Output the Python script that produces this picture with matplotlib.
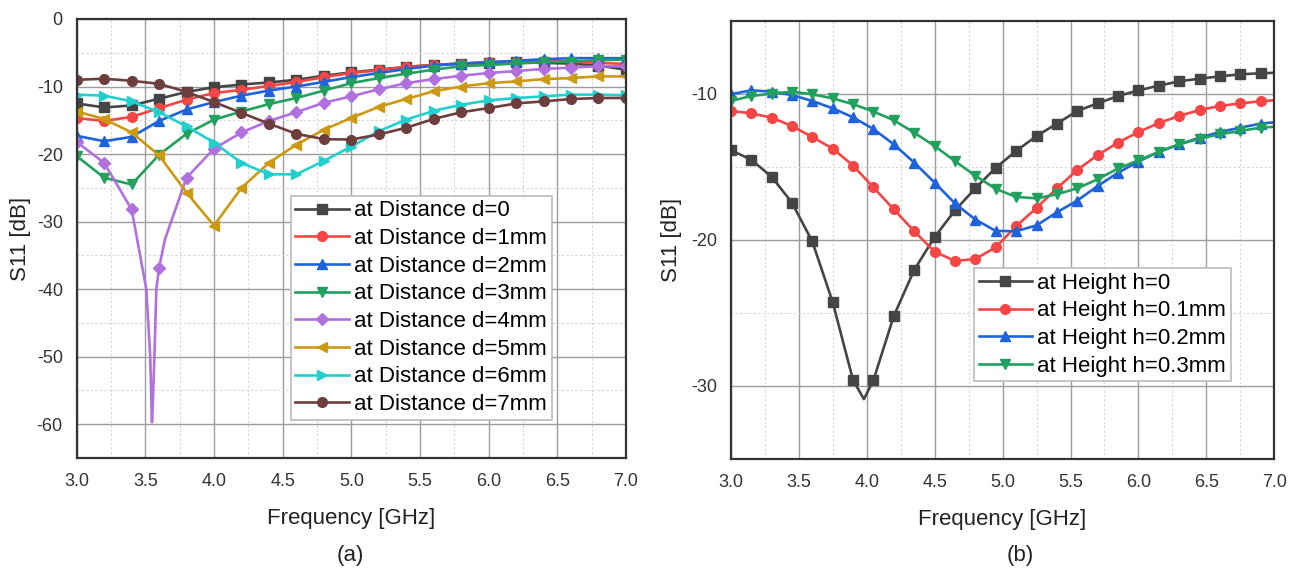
import matplotlib
matplotlib.use("Agg")
import matplotlib.pyplot as plt
from matplotlib.ticker import MultipleLocator

plt.rcParams['font.family'] = ['Liberation Sans', 'DejaVu Sans']
plt.rcParams['axes.unicode_minus'] = False

# ---------------- (a) distance sweep ----------------
freq_a = [3.0, 3.2, 3.4, 3.6, 3.8, 4.0, 4.2, 4.4, 4.6, 4.8, 5.0,
          5.2, 5.4, 5.6, 5.8, 6.0, 6.2, 6.4, 6.6, 6.8, 7.0]
s11_d0 = [-12.5, -13.1, -12.8, -11.8, -10.8, -10.1, -9.7, -9.4, -9.0, -8.4, -7.9,
          -7.5, -7.1, -6.8, -6.6, -6.5, -6.4, -6.5, -6.6, -6.9, -7.5]
s11_d1 = [-14.65, -15.1, -14.5, -13.2, -11.95, -10.96, -10.5, -9.9, -9.35, -8.6, -8.0,
          -7.6, -7.1, -6.8, -6.6, -6.4, -6.3, -6.2, -6.3, -6.5, -6.65]
s11_d2 = [-17.3, -18.1, -17.45, -15.1, -13.4, -12.3, -11.35, -10.6, -10.0, -9.3, -8.6,
          -8.0, -7.4, -6.9, -6.6, -6.4, -6.2, -5.95, -5.8, -5.8, -5.8]
s11_d3 = [-20.3, -23.5, -24.5, -20.1, -17.0, -14.9, -13.7, -12.6, -11.7, -10.6, -9.5,
          -8.75, -8.1, -7.5, -7.0, -6.8, -6.6, -6.4, -6.3, -6.1, -6.0]
s11_d4 = [-18.2, -21.3, -28.2, -36.8, -23.5, -19.2, -16.8, -15.1, -13.8, -12.4, -11.45,
          -10.4, -9.5, -8.9, -8.4, -8.0, -7.7, -7.4, -7.2, -7.0, -7.0]
# extra simulated points of the sharp d=4mm resonance (line only)
dip_d4_freq = [3.44, 3.507, 3.535, 3.548, 3.554, 3.57, 3.58, 3.643]
dip_d4_s11 = [-32.6, -40.0, -49.8, -59.7, -57.2, -47.3, -40.0, -32.6]
s11_d5 = [-13.7, -14.8, -16.8, -20.2, -25.7, -30.6, -25.0, -21.3, -18.6, -16.4, -14.65,
          -13.0, -11.85, -10.7, -10.0, -9.5, -9.25, -8.9, -8.75, -8.5, -8.5]
s11_d6 = [-11.2, -11.35, -12.2, -13.8, -15.9, -18.3, -21.3, -23.0, -23.0, -21.0, -18.9,
          -16.6, -14.9, -13.6, -12.7, -12.05, -11.7, -11.45, -11.2, -11.2, -11.3]
s11_d7 = [-9.0, -8.85, -9.15, -9.6, -10.8, -12.3, -13.9, -15.5, -17.0, -17.8, -17.85,
          -17.1, -16.1, -14.8, -13.8, -13.2, -12.5, -12.2, -11.85, -11.7, -11.7]

labels_a = ['at Distance d=0', 'at Distance d=1mm', 'at Distance d=2mm', 'at Distance d=3mm',
            'at Distance d=4mm', 'at Distance d=5mm', 'at Distance d=6mm', 'at Distance d=7mm']

# ---------------- (b) height sweep ----------------
freq_b = [3.0, 3.15, 3.3, 3.45, 3.6, 3.75, 3.9, 4.05, 4.2, 4.35, 4.5, 4.65, 4.8, 4.95,
          5.1, 5.25, 5.4, 5.55, 5.7, 5.85, 6.0, 6.15, 6.3, 6.45, 6.6, 6.75, 6.9, 7.0]
s11_h0 = [-13.84, -14.5, -15.66, -17.44, -20.1, -24.25, -29.6, -29.6, -25.2, -22.05,
          -19.8, -17.97, -16.46, -15.05, -13.9, -12.88, -12.03, -11.16, -10.64, -10.14,
          -9.75, -9.43, -9.13, -8.95, -8.79, -8.65, -8.58, -8.55]
dip_h0_freq = [3.98]
dip_h0_s11 = [-30.9]
s11_h1 = [-11.16, -11.32, -11.62, -12.19, -12.95, -13.74, -14.9, -16.4, -17.9, -19.4,
          -20.8, -21.44, -21.3, -20.5, -19.06, -17.8, -16.46, -15.2, -14.18, -13.33,
          -12.6, -11.99, -11.5, -11.1, -10.82, -10.64, -10.5, -10.43]
s11_h2 = [-10.02, -9.75, -9.84, -10.07, -10.48, -10.98, -11.6, -12.4, -13.45, -14.7,
          -16.07, -17.5, -18.6, -19.38, -19.4, -19.0, -18.1, -17.3, -16.3, -15.39,
          -14.63, -13.95, -13.45, -12.99, -12.6, -12.3, -12.03, -11.94]
s11_h3 = [-10.48, -10.14, -9.98, -9.84, -10.02, -10.3, -10.7, -11.2, -11.8, -12.65,
          -13.56, -14.6, -15.6, -16.5, -17.05, -17.15, -16.87, -16.46, -15.84, -15.1,
          -14.54, -13.97, -13.45, -13.06, -12.76, -12.53, -12.3, -12.25]

labels_b = ['at Height h=0', 'at Height h=0.1mm', 'at Height h=0.2mm', 'at Height h=0.3mm']

colors_a = ['#454545', '#F54545', '#1E62DC', '#22A05E', '#B070DE', '#CC9A12', '#22CFCF', '#6E3E3E']
markers_a = ['s', 'o', '^', 'v', 'D', '<', '>', 'o']
colors_b = colors_a[:4]
markers_b = markers_a[:4]


def merge(freq, vals, xf, xv):
    pts = sorted([(f, v, True) for f, v in zip(freq, vals)] +
                 [(f, v, False) for f, v in zip(xf, xv)])
    fx = [p[0] for p in pts]
    vy = [p[1] for p in pts]
    idx = [i for i, p in enumerate(pts) if p[2]]
    return fx, vy, idx


def style_axes(ax, ylim, yminor):
    ax.set_xlim(3.0, 7.0)
    ax.set_ylim(*ylim)
    ax.xaxis.set_major_locator(MultipleLocator(0.5))
    ax.xaxis.set_minor_locator(MultipleLocator(0.25))
    ax.yaxis.set_major_locator(MultipleLocator(10))
    ax.yaxis.set_minor_locator(MultipleLocator(yminor))
    ax.grid(which='major', color='#9C9C9C', lw=1.0, ls='-')
    ax.grid(which='minor', color='#D6D6D6', lw=0.8, ls=(0, (2, 2)))
    ax.set_axisbelow(True)
    ax.tick_params(which='both', length=0)
    ax.tick_params(axis='x', labelsize=13, pad=11, colors='#333333')
    ax.tick_params(axis='y', labelsize=13, pad=10, colors='#333333')
    ax.xaxis.set_major_formatter(matplotlib.ticker.FormatStrFormatter('%.1f'))
    for s in ax.spines.values():
        s.set_color('#333333')
        s.set_linewidth(1.6)
    ax.set_xlabel('Frequency [GHz]', fontsize=16, color='#222222')
    ax.set_ylabel('S11 [dB]', fontsize=16, color='#222222')


fig = plt.figure(figsize=(13.0, 5.72), dpi=100)
ax1 = fig.add_axes([0.0590, 0.1993, 0.4225, 0.7675])
ax2 = fig.add_axes([0.5621, 0.1976, 0.4182, 0.7657])

series_a = [s11_d0, s11_d1, s11_d2, s11_d3, s11_d4, s11_d5, s11_d6, s11_d7]
for i, vals in enumerate(series_a):
    if i == 4:
        fx, vy, idx = merge(freq_a, vals, dip_d4_freq, dip_d4_s11)
    else:
        fx, vy, idx = freq_a, vals, list(range(len(freq_a)))
    ms = 6.0 if markers_a[i] == 'D' else 7.0
    ax1.plot(fx, vy, color=colors_a[i], lw=1.9, marker=markers_a[i], markersize=ms,
             markevery=idx, label=labels_a[i])
style_axes(ax1, (-65, 0), 5)
ax1.xaxis.set_label_coords(0.5, -0.115)
ax1.yaxis.set_label_coords(-0.083, 0.5)
leg1 = ax1.legend(loc='upper left', bbox_to_anchor=(0.390, 0.5968), borderaxespad=0,
                  fontsize=16, frameon=True, fancybox=False, edgecolor='#BBBBBB',
                  framealpha=1, handlelength=2.4, handletextpad=0.25, borderpad=0.2,
                  labelspacing=0.3)
leg1.get_frame().set_linewidth(1.2)

series_b = [s11_h0, s11_h1, s11_h2, s11_h3]
nmark = len(freq_b) - 1
for i, vals in enumerate(series_b):
    if i == 0:
        fx, vy, idx = merge(freq_b, vals, dip_h0_freq, dip_h0_s11)
        idx = idx[:-1]
    else:
        fx, vy, idx = freq_b, vals, list(range(nmark))
    ax2.plot(fx, vy, color=colors_b[i], lw=1.9, marker=markers_b[i], markersize=7.0,
             markevery=idx, label=labels_b[i])
style_axes(ax2, (-35, -5), 5)
ax2.xaxis.set_label_coords(0.5, -0.115)
ax2.yaxis.set_label_coords(-0.089, 0.5)
leg2 = ax2.legend(loc='upper left', bbox_to_anchor=(0.4476, 0.4354), borderaxespad=0,
                  fontsize=16, frameon=True, fancybox=False, edgecolor='#BBBBBB',
                  framealpha=1, handlelength=2.4, handletextpad=0.25, borderpad=0.2,
                  labelspacing=0.3)
leg2.get_frame().set_linewidth(1.2)

fig.text(350 / 1300, 1 - 555 / 572, '(a)', fontsize=16, ha='center', va='center', color='#222222')
fig.text(1020 / 1300, 1 - 555 / 572, '(b)', fontsize=16, ha='center', va='center', color='#222222')

fig.savefig('out.png', dpi=100, facecolor='white')
